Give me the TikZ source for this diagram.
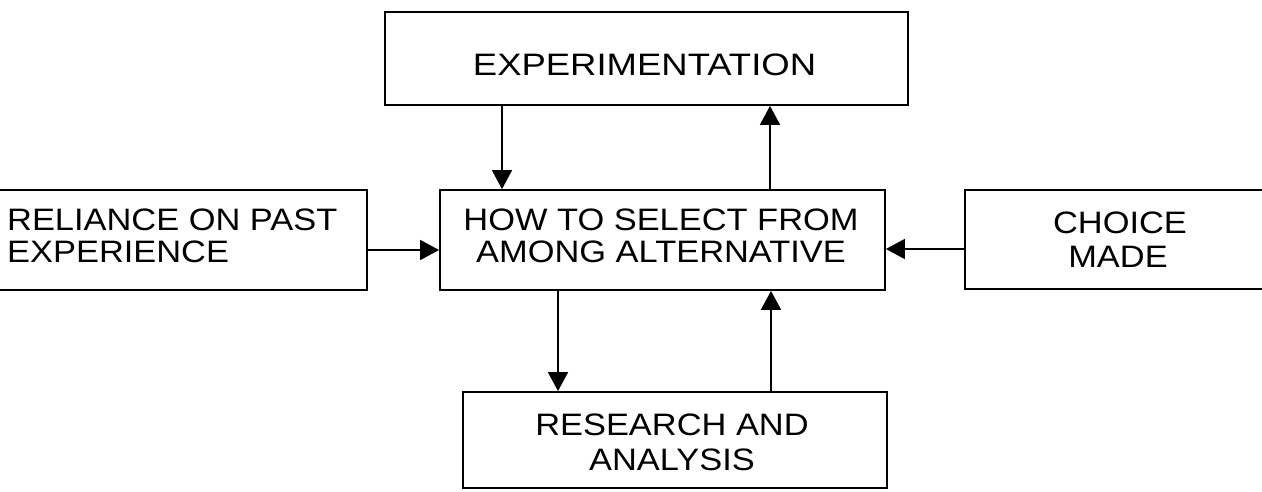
\documentclass[tikz,border=0pt]{standalone}
\usepackage{fontspec}
\setmainfont{Liberation Sans}[FakeStretch=1.11]
\usetikzlibrary{arrows.meta}
\tikzset{
  boxnode/.style={draw=black, line width=1.8pt, rectangle, inner sep=0pt, fill=none},
  txt/.style={anchor=base, inner sep=0pt, font=\fontsize{31}{33}\selectfont},
  txtw/.style={anchor=base west, inner sep=0pt, font=\fontsize{31}{33}\selectfont},
  arr/.style={line width=1.8pt, -{Triangle[length=19pt,width=20pt]}}
}
\begin{document}
\begin{tikzpicture}[x=1pt,y=1pt]
\useasboundingbox (0,0) rectangle (1262,-491);
\clip (0,0) rectangle (1262,-491);
\fill[white] (0,0) rectangle (1262,-491);
% boxes
\node[boxnode, minimum width=523pt, minimum height=93pt] (exp) at (646.5,-58.5) {};
\node[boxnode, minimum width=445pt, minimum height=100pt] (ctr) at (662.5,-240) {};
\node[boxnode, minimum width=387pt, minimum height=100pt] (lft) at (173.5,-240) {};
\node[boxnode, minimum width=325pt, minimum height=99pt] (rgt) at (1127.5,-239.5) {};
\node[boxnode, minimum width=424pt, minimum height=96pt] (bot) at (675,-440) {};
% texts
\node[txt] (expT) at (644.5,-75) {\scalebox{1.06}[1]{EXPERIMENTATION}};
\node[txt] (ctrT1) at (661,-230) {HOW TO SELECT FROM};
\node[txt] (ctrT2) at (661,-262) {AMONG ALTERNATIVE};
\node[txtw] (lftT1) at (7,-230) {RELIANCE ON PAST};
\node[txtw] (lftT2) at (7,-262) {EXPERIENCE};
\node[txt] (rgtT1) at (1120,-233) {CHOICE};
\node[txt] (rgtT2) at (1118,-267) {MADE};
\node[txt] (botT1) at (672,-435) {RESEARCH AND};
\node[txt] (botT2) at (672,-470) {ANALYSIS};
% connectors
\draw[arr] (502,0 |- exp.south) -- (502,0 |- ctr.north);
\draw[arr] (770,0 |- ctr.north) -- (770,0 |- exp.south);
\draw[arr] (lft.east |- 0,-250) -- (ctr.west |- 0,-250);
\draw[arr] (rgt.west |- 0,-249) -- (ctr.east |- 0,-249);
\draw[arr] (558,0 |- ctr.south) -- (558,0 |- bot.north);
\draw[arr] (771,0 |- bot.north) -- (771,0 |- ctr.south);
\end{tikzpicture}
\end{document}
